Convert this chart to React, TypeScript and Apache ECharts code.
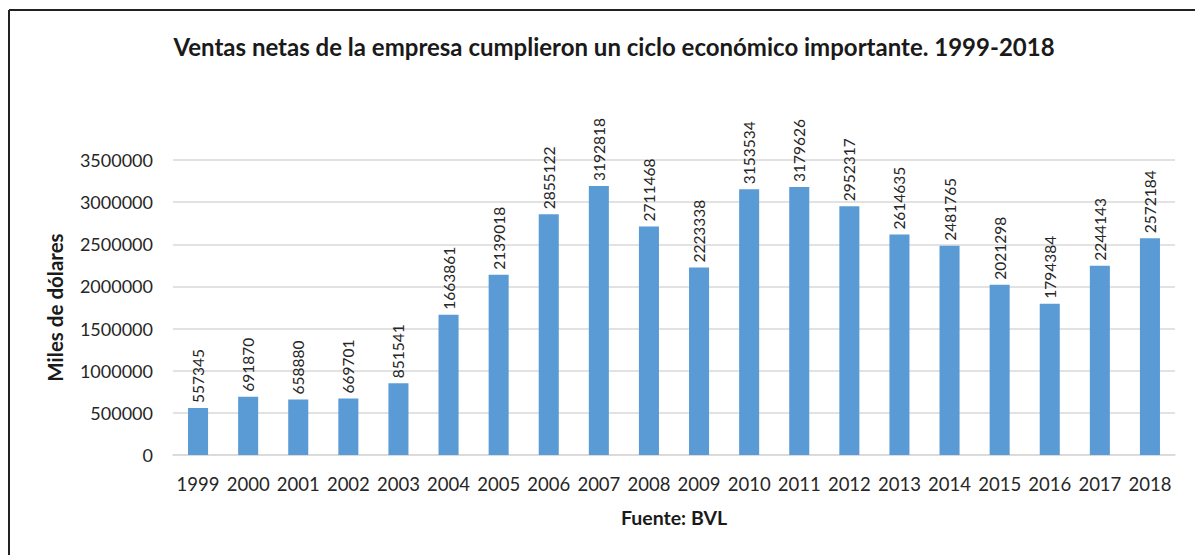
import React, { useEffect, useRef } from "react";
import * as echarts from "echarts";

const years = ["1999","2000","2001","2002","2003","2004","2005","2006","2007","2008","2009","2010","2011","2012","2013","2014","2015","2016","2017","2018"];
const ventas = [557345, 691870, 658880, 669701, 851541, 1663861, 2139018, 2855122, 3192818, 2711468, 2223338, 3153534, 3179626, 2952317, 2614635, 2481765, 2021298, 1794384, 2244143, 2572184];
const titleText = "Ventas netas de la empresa cumplieron un ciclo económico importante. 1999-2018";
const yAxisName = "Miles de dólares";
const xAxisName = "Fuente: BVL";

const FONT = "Lato, 'Open Sans', sans-serif";

export default function App() {
  const ref = useRef<HTMLDivElement>(null);
  useEffect(() => {
    const chart = echarts.init(ref.current!, null, { renderer: "svg" });
    chart.setOption({
      animation: false,
      backgroundColor: "#ffffff",
      textStyle: { fontFamily: FONT },
      title: {
        text: titleText,
        left: 609,
        top: 29,
        textAlign: "center",
        textStyle: { fontFamily: FONT, fontSize: 24, fontWeight: "bold", color: "#1a1a1a" },
      },
      graphic: [
        { type: "line", shape: { x1: 9, y1: 10, x2: 1195, y2: 10 }, style: { stroke: "#222", lineWidth: 2 } },
        { type: "line", shape: { x1: 9, y1: 10, x2: 9, y2: 555 }, style: { stroke: "#222", lineWidth: 2 } },
      ],
      grid: { left: 173, right: 20, top: 160, bottom: 100 },
      xAxis: {
        type: "category",
        data: years,
        name: xAxisName,
        nameLocation: "middle",
        nameGap: 52,
        nameTextStyle: { fontFamily: FONT, fontSize: 19.5, fontWeight: "bold", color: "#1a1a1a" },
        axisLine: { show: true, lineStyle: { color: "#d9d9d9", width: 1.5 } },
        axisTick: { show: false },
        axisLabel: { fontFamily: FONT, fontSize: 18.5, color: "#262626", margin: 19, interval: 0, hideOverlap: false },
      },
      yAxis: {
        type: "value",
        min: 0,
        max: 3500000,
        interval: 500000,
        name: yAxisName,
        nameLocation: "middle",
        nameGap: 108,
        nameTextStyle: { fontFamily: FONT, fontSize: 20.5, fontWeight: "bold", color: "#1a1a1a" },
        axisLine: { show: false },
        axisTick: { show: false },
        splitLine: { lineStyle: { color: "#d9d9d9", width: 1.5 } },
        axisLabel: {
          fontFamily: FONT,
          fontSize: 18,
          color: "#262626",
          margin: 20,
          formatter: (v: number) => String(v),
        },
      },
      series: [
        {
          type: "bar",
          data: ventas,
          barWidth: "40%",
          itemStyle: { color: "#5b9bd5" },
          label: {
            show: true,
            position: "top",
            rotate: 90,
            align: "left",
            verticalAlign: "middle",
            distance: 5,
            fontFamily: FONT,
            fontSize: 15.5,
            color: "#262626",
          },
        },
      ],
    });
    return () => chart.dispose();
  }, []);
  return <div ref={ref} style={{ position: "fixed", left: 0, top: 0, width: 1195, height: 555 }} />;
}
